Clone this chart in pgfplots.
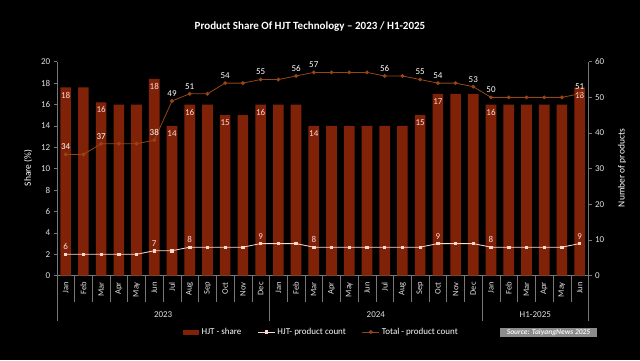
\documentclass[border=0pt]{standalone}
\usepackage{fontspec}
\setmainfont{Carlito}
\usepackage{pgfplots}
\pgfplotsset{compat=1.18}
\definecolor{barred}{RGB}{128,34,8}
\definecolor{totline}{RGB}{150,70,22}
\definecolor{hjtline}{RGB}{255,215,205}
\definecolor{axgray}{RGB}{120,120,120}
\definecolor{lblpink}{RGB}{255,215,215}
\definecolor{ticktxt}{RGB}{225,225,225}
\pgfplotsset{
  /pgf/number format/assume math mode=true,
  base/.style={
    scale only axis, width=531.7pt, height=214pt,
    at={(56.8pt,84.3pt)}, anchor=south west,
    xmin=-0.5, xmax=29.5, clip=false,
    axis line style={draw=axgray, line width=0.6pt},
    tick label style={font=\fontsize{9}{10}\selectfont, text=ticktxt},
    tick align=outside, major tick length=3pt,
    major tick style={draw=axgray, line width=0.5pt},
  },
  lbl/.style={draw=none, mark=none, nodes near coords, point meta=y, forget plot,
    every node near coord/.append style={font=\fontsize{9}{10}\selectfont,
      /pgf/number format/fixed, /pgf/number format/precision=0,
      /pgf/number format/assume math mode=true}},
}
\begin{document}
\begin{tikzpicture}[x=1pt,y=1pt]
\fill[black] (0,0) rectangle (640,360);
\node[text=white, font=\fontsize{11}{13}\selectfont\bfseries] at (310,333) {Product Share Of HJT Technology – 2023 / H1-2025};

% ---------- left axis: bars ----------
\begin{axis}[base,
  axis y line*=left, axis x line*=bottom,
  ymin=0, ymax=20, ytick={0,2,...,20},
  xtick={0,...,29},
  xticklabels={Jan,Feb,Mar,Apr,May,Jun,Jul,Aug,Sep,Oct,Nov,Dec,Jan,Feb,Mar,Apr,May,Jun,Jul,Aug,Sep,Oct,Nov,Dec,Jan,Feb,Mar,Apr,May,Jun},
  xticklabel style={rotate=90, anchor=east, font=\fontsize{8.5}{9}\selectfont, text=ticktxt},
  major x tick style={draw=none},
  minor xtick={0.5,1.5,...,28.5}, minor tick length=26pt,
  minor x tick style={draw=axgray, line width=0.5pt},
  extra x ticks={-0.5,11.5,23.5,29.5}, extra x tick labels={},
  extra x tick style={major tick length=45pt, major x tick style={draw=axgray, line width=0.6pt}},
  ylabel={Share (\%)},
  every axis y label/.style={at={(rel axis cs:-0.0541,0.503)}, anchor=center, rotate=90, text=white, font=\fontsize{9.5}{10}\selectfont},
]
\addplot[ybar, bar width=0.6, fill=barred, draw=none] coordinates {
(0,17.6) (1,17.6) (2,16.2) (3,16) (4,16) (5,18.4) (6,14) (7,16) (8,16) (9,15) (10,15) (11,16)
(12,16) (13,16) (14,14) (15,14) (16,14) (17,14) (18,14) (19,14) (20,15) (21,17) (22,17) (23,17)
(24,16) (25,16) (26,16) (27,16) (28,16) (29,17.6)};
\addplot[lbl, every node near coord/.append style={anchor=north, yshift=-1pt, text=lblpink}] coordinates {
(0,17.6) (2,16.2) (5,18.4) (6,14) (7,16) (9,15) (11,16) (14,14) (20,15) (21,17) (24,16) (29,17.6)};
\node[text=ticktxt, font=\fontsize{9}{10}\selectfont] at (axis cs:5.5,0) [yshift=-38.5pt] {2023};
\node[text=ticktxt, font=\fontsize{9}{10}\selectfont] at (axis cs:17.5,0) [yshift=-38.5pt] {2024};
\node[text=ticktxt, font=\fontsize{9}{10}\selectfont] at (axis cs:26.5,0) [yshift=-38.5pt] {H1-2025};
\end{axis}

% ---------- right axis: lines ----------
\begin{axis}[base,
  axis y line*=right, axis x line=none,
  ymin=0, ymax=60, ytick={0,10,...,60},
  ylabel={Number of products},
  every axis y label/.style={at={(rel axis cs:1.063,0.503)}, anchor=center, rotate=90, text=white, font=\fontsize{9.5}{10}\selectfont},
  legend style={at={(rel axis cs:0.497,-0.263)}, anchor=center, draw=none, fill=none,
    text=white, font=\fontsize{9}{10}\selectfont, legend columns=3,
    /tikz/every even column/.append style={column sep=14pt}},
  legend cell align=left,
]
\addlegendimage{area legend, fill=barred, draw=none}
\addlegendentry{HJT - share}
\addplot[color=hjtline, line width=0.8pt, mark=square*, mark size=1.2pt, mark options={fill=hjtline}] coordinates {
(0,6) (1,6) (2,6) (3,6) (4,6) (5,7) (6,7) (7,8) (8,8) (9,8) (10,8) (11,9)
(12,9) (13,9) (14,8) (15,8) (16,8) (17,8) (18,8) (19,8) (20,8) (21,9) (22,9) (23,9)
(24,8) (25,8) (26,8) (27,8) (28,8) (29,9)};
\addlegendentry{HJT- product count}
\addplot[color=totline, line width=0.8pt, mark=*, mark size=1.5pt, mark options={fill=totline}] coordinates {
(0,34) (1,34) (2,37) (3,37) (4,37) (5,38) (6,49) (7,51) (8,51) (9,54) (10,54) (11,55)
(12,55) (13,56) (14,57) (15,57) (16,57) (17,57) (18,56) (19,56) (20,55) (21,54) (22,54) (23,53)
(24,50) (25,50) (26,50) (27,50) (28,50) (29,51)};
\addlegendentry{Total - product count}
\addplot[lbl, every node near coord/.append style={anchor=south, yshift=1pt, text=white}] coordinates {
(0,34) (2,37) (5,38) (6,49) (7,51) (9,54) (11,55) (13,56) (14,57) (18,56) (20,55) (21,54) (23,53) (24,50) (29,51)};
\addplot[lbl, every node near coord/.append style={anchor=south, yshift=1pt, text=lblpink}] coordinates {
(0,6) (5,7) (7,8) (11,9) (14,8) (21,9) (24,8) (29,9)};
\end{axis}

\node[fill={rgb,255:red,140;green,140;blue,140}, text={rgb,255:red,240;green,240;blue,240}, font=\fontsize{7.5}{9}\selectfont\bfseries\itshape, inner xsep=2pt, inner ysep=1.5pt, minimum width=97pt] at (548.5,27.5) {Source: TaiyangNews 2025};
\end{tikzpicture}
\end{document}
